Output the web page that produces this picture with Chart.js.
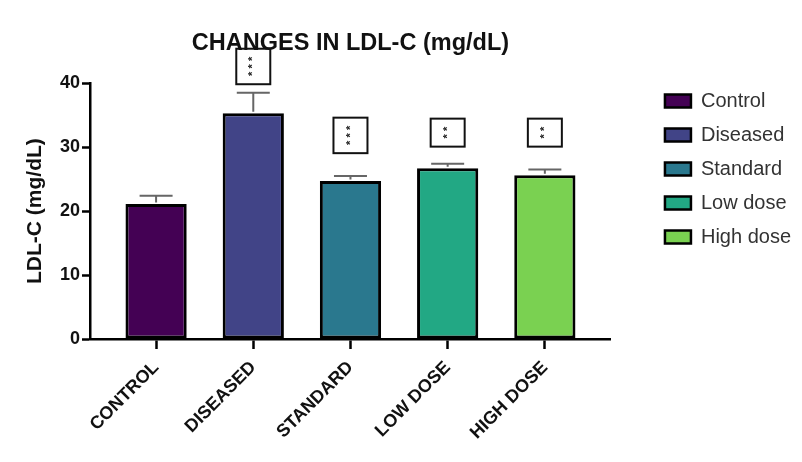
<!DOCTYPE html>
<html>
<head>
<meta charset="utf-8">
<title>Changes in LDL-C</title>
<script src="https://cdn.jsdelivr.net/npm/chart.js@4/dist/chart.umd.min.js"></script>
<style>
  html, body { margin: 0; padding: 0; background: #ffffff; }
  #wrap { width: 802px; height: 462px; }
</style>
</head>
<body>
<div id="wrap"><canvas id="chart" width="802" height="462"></canvas></div>
<script>
// Group labels on the x axis and in the legend
const categories = ['CONTROL', 'DISEASED', 'STANDARD', 'LOW DOSE', 'HIGH DOSE'];
const groups = ['Control', 'Diseased', 'Standard', 'Low dose', 'High dose'];

// Mean LDL-C (mg/dL) and standard error per group
const means = [21.1, 35.3, 24.7, 26.7, 25.6];
const sem = [1.3, 3.2, 0.8, 0.7, 0.9];

// Significance marks shown above each bar
const significance = ['', '***', '***', '**', '**'];

// Y axis ticks
const yTicks = [0, 10, 20, 30, 40];

const colors = ['#440154', '#414487', '#2a788e', '#22a884', '#7ad151'];
const FONT = "'Liberation Sans', Arial, Helvetica, sans-serif";

// Mean + SEM whiskers (upper half only)
const errorBars = {
  id: 'errorBars',
  afterDatasetsDraw(chart, args, opts) {
    const { ctx } = chart;
    const y = chart.scales.y;
    const meta = chart.getDatasetMeta(0);
    ctx.save();
    ctx.strokeStyle = opts.color;
    ctx.lineWidth = opts.width;
    meta.data.forEach((bar, i) => {
      const base = y.getPixelForValue(means[i]) - 1.5;
      const top = y.getPixelForValue(means[i] + sem[i]);
      ctx.beginPath();
      ctx.moveTo(bar.x, base);
      ctx.lineTo(bar.x, top);
      ctx.moveTo(bar.x - opts.cap / 2, top);
      ctx.lineTo(bar.x + opts.cap / 2, top);
      ctx.stroke();
    });
    ctx.restore();
  }
};

// Boxed significance stars, drawn rotated as in the original figure
const sigBoxes = {
  id: 'sigBoxes',
  afterDraw(chart, args, opts) {
    const { ctx } = chart;
    const y = chart.scales.y;
    const meta = chart.getDatasetMeta(0);
    ctx.save();
    meta.data.forEach((bar, i) => {
      const stars = significance[i];
      if (!stars) return;
      const n = stars.length;
      const bottom = y.getPixelForValue(opts.levels[i]);
      const h = opts.pad + n * opts.step;
      const w = opts.boxWidth;
      ctx.strokeStyle = '#111';
      ctx.lineWidth = 2;
      ctx.strokeRect(bar.x - w / 2, bottom - h, w, h);
      ctx.save();
      ctx.translate(bar.x, bottom - h / 2);
      ctx.rotate(-Math.PI / 2);
      ctx.fillStyle = '#222';
      ctx.font = 'bold 11px ' + FONT;
      ctx.textAlign = 'center';
      ctx.textBaseline = 'middle';
      for (let k = 0; k < n; k++) {
        ctx.fillText('*', (k - (n - 1) / 2) * opts.step, 0);
      }
      ctx.restore();
    });
    ctx.restore();
  }
};

new Chart(document.getElementById('chart'), {
  type: 'bar',
  data: {
    datasets: [{
      label: 'LDL-C',
      data: means.map((v, i) => ({ x: i, y: v })),
      backgroundColor: colors,
      borderColor: '#000',
      borderWidth: 3,
      borderSkipped: false,
      categoryPercentage: 0.63,
      barPercentage: 1
    }]
  },
  options: {
    responsive: false,
    animation: false,
    layout: { padding: { left: 0, right: 1, top: 0, bottom: 0 } },
    scales: {
      x: {
        type: 'linear',
        offset: false,
        min: -0.68,
        max: 4.68,
        afterFit: s => { s.height = 123; },
        border: { display: true, color: '#000', width: 2.5 },
        grid: { display: true, offset: false, drawOnChartArea: false, drawTicks: true, tickLength: 10, tickWidth: 2.5, tickColor: '#000' },
        ticks: {
          stepSize: 1,
          includeBounds: false,
          autoSkip: false,
          minRotation: 45,
          maxRotation: 45,
          padding: 8,
          color: '#111',
          font: { family: FONT, size: 18, weight: 'bold' },
          callback: v => (Number.isInteger(v) && categories[v]) ? categories[v] : ''
        }
      },
      y: {
        min: yTicks[0],
        max: yTicks[yTicks.length - 1],
        afterFit: s => { s.width = 90; },
        afterBuildTicks: s => { s.ticks = yTicks.map(v => ({ value: v })); },
        border: { display: true, color: '#000', width: 2.5 },
        grid: { display: true, drawOnChartArea: false, drawTicks: true, tickLength: 8, tickWidth: 2.5, tickColor: '#000' },
        ticks: {
          padding: 2,
          color: '#111',
          font: { family: FONT, size: 18, weight: 'bold' }
        },
        title: {
          display: true,
          text: 'LDL-C (mg/dL)',
          color: '#111',
          font: { family: FONT, size: 21, weight: 'bold' },
          padding: { top: 23, bottom: 0 }
        }
      },
      gap: {
        type: 'linear',
        position: 'right',
        display: true,
        afterFit: s => { s.width = 40; },
        border: { display: false },
        grid: { display: false, drawTicks: false },
        ticks: { display: false }
      }
    },
    plugins: {
      title: {
        display: true,
        text: 'CHANGES IN LDL-C (mg/dL)',
        fullSize: false,
        color: '#111',
        font: { family: FONT, size: 23.5, weight: 'bold' },
        padding: { top: 29, bottom: 26 }
      },
      legend: {
        position: 'right',
        align: 'start',
        fullSize: true,
        maxWidth: 170,
        title: { display: true, text: ' ', font: { size: 10 }, padding: { top: 65, bottom: 0 } },
        labels: {
          boxWidth: 26,
          boxHeight: 13,
          padding: 14,
          color: '#333',
          font: { family: FONT, size: 20 },
          generateLabels: () => groups.map((g, i) => ({
            text: g,
            fillStyle: colors[i],
            strokeStyle: '#000',
            lineWidth: 2.5,
            fontColor: '#333',
            hidden: false,
            index: i,
            datasetIndex: 0
          }))
        }
      },
      tooltip: { enabled: false },
      errorBars: { color: '#666', width: 2, cap: 33 },
      sigBoxes: { levels: [null, 39.84, 29.06, 30.08, 30.08], pad: 13, step: 7.5, boxWidth: 34 }
    }
  },
  plugins: [errorBars, sigBoxes]
});
</script>
</body>
</html>
